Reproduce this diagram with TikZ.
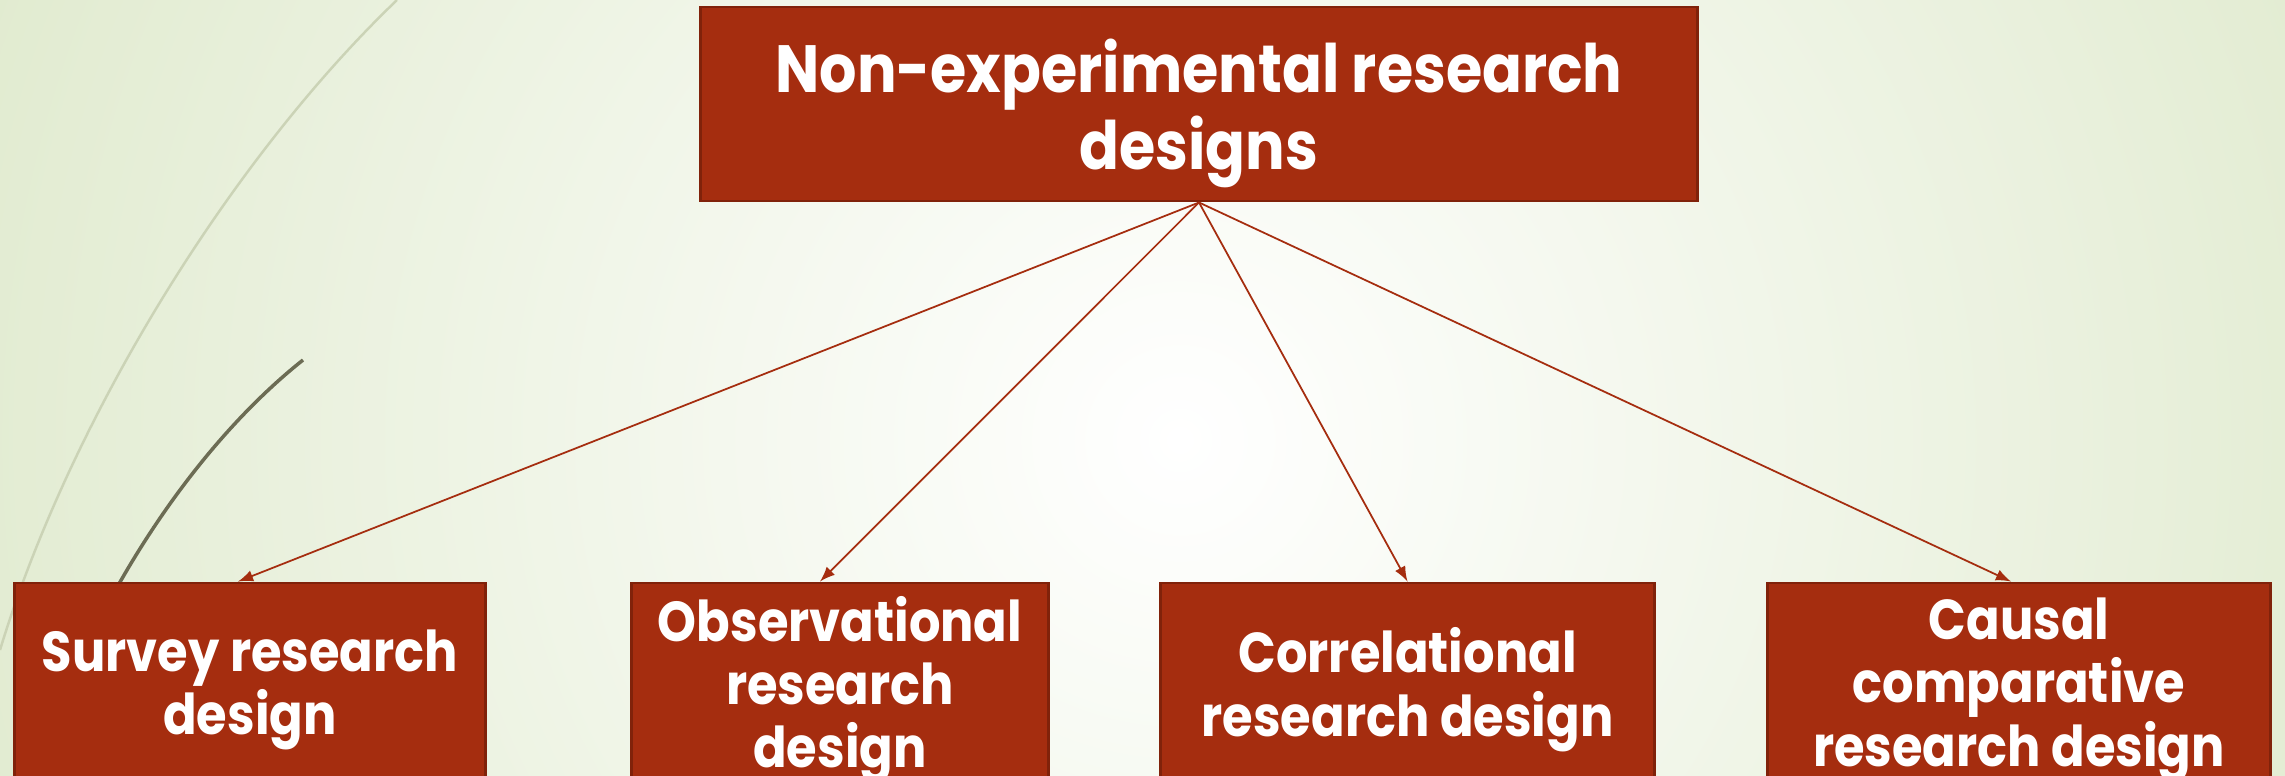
\documentclass[tikz,border=0pt]{standalone}
\usepackage{fontspec}
\setmainfont{Poppins}[FakeStretch=0.88]
\definecolor{boxfill}{RGB}{165,45,15}
\definecolor{boxline}{RGB}{128,34,10}
\definecolor{bggreen}{RGB}{222,233,203}
\definecolor{leafpale}{RGB}{203,211,182}
\definecolor{leafdark}{RGB}{108,108,84}
\tikzset{
	designbox/.style={draw=boxline, line width=0.8pt, fill=boxfill, text=white, align=center, inner sep=0pt},
	headbox/.style={designbox, minimum width=9.96cm, minimum height=1.94cm, font=\fontsize{19}{22}\selectfont\bfseries, text depth=-1pt},
	subbox/.style={designbox, minimum height=1.98cm, font=\fontsize{16}{18}\selectfont\bfseries, text depth=-1.5pt},
	link/.style={->, draw=boxfill, line width=0.5pt}
}

\begin{document}
\begin{tikzpicture}[>=latex, x=0.01cm, y=-0.01cm]
	\useasboundingbox (0,0) rectangle (2285,775);
	% background
	\begin{scope}
		\clip (0,0) rectangle (2285,775);
		\shade [inner color=white, outer color=bggreen] (1180,440) circle (14cm);
	\end{scope}
	\draw [leafpale, line width=0.7pt] (397,0) .. controls (230,160) and (70,420) .. (0,650);
	\draw [leafdark, line width=1pt] (303,360) .. controls (240,410) and (170,490) .. (110,600);
	% boxes
	\node [headbox] (nonexp) at (1199,104) {Non-experimental research\\designs};
	\node [subbox, minimum width=4.71cm] (survey) at (250,682) {Survey research\\design};
	\node [subbox, minimum width=4.16cm] (observ) at (840,682) {Observational\\research\\design};
	\node [subbox, minimum width=4.93cm] (correl) at (1407.5,682) {Correlational\\research design};
	\node [subbox, minimum width=5.02cm] (causal) at (2019,682) {Causal\\comparative\\research design};
	% arrows
	\draw [link] (nonexp.south) -- ([xshift=-0.12cm]survey.north);
	\draw [link] (nonexp.south) -- ([xshift=-0.2cm]observ.north);
	\draw [link] (nonexp.south) -- (correl.north);
	\draw [link] (nonexp.south) -- ([xshift=-0.08cm]causal.north);
\end{tikzpicture}
\end{document}
